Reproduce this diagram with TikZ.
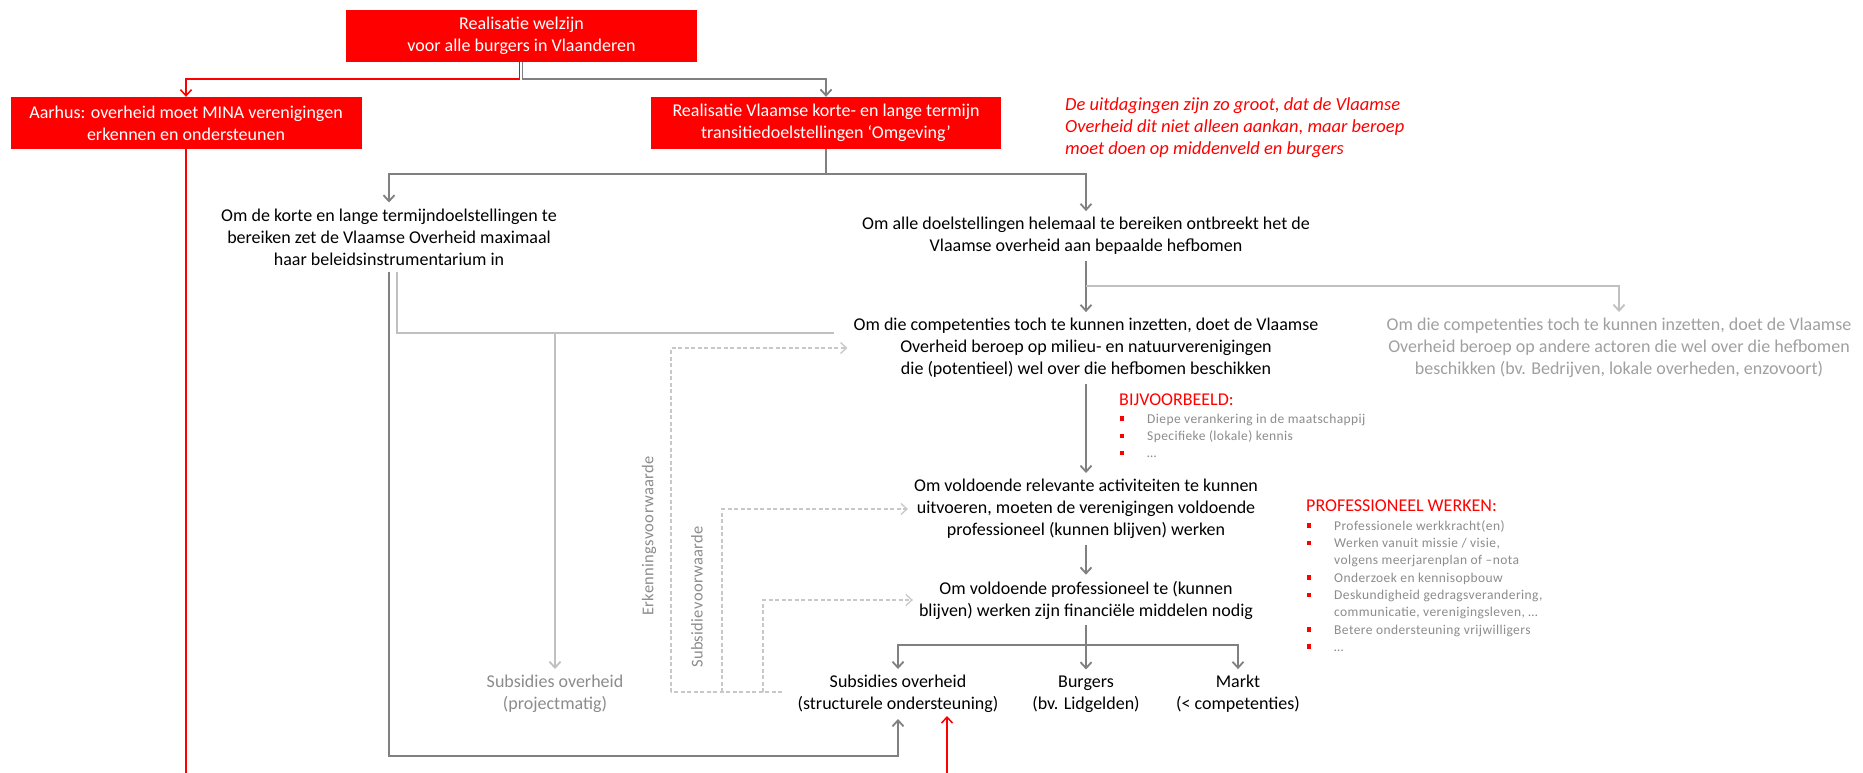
\documentclass[tikz,border=0pt]{standalone}
\usepackage{fontspec}
\setmainfont{Carlito}
\usetikzlibrary{arrows.meta}

\definecolor{redc}{HTML}{FF0000}
\definecolor{lineDark}{HTML}{808080}
\definecolor{lineLight}{HTML}{C0C0C0}
\definecolor{lineDash}{HTML}{C8C8C8}
\definecolor{txtGrey}{HTML}{8C8C8C}
\definecolor{txtLight}{HTML}{A0A0A0}

\newcommand{\mainfs}{\fontsize{18}{22}\selectfont}
\newcommand{\listfs}{\fontsize{13.5}{17.3}\selectfont\addfontfeature{LetterSpace=3}}
\newcommand{\sqbul}{\textcolor{redc}{\rule[2.5pt]{4.5pt}{4.5pt}}}

\begin{document}
\begin{tikzpicture}[x=1pt,y=-1pt,
  >={Straight Barb[length=6pt,width=11pt]},
  redbox/.style={fill=redc,text=white,minimum width=351pt,minimum height=52pt,
    inner sep=0pt,align=center,font=\mainfs},
  txt/.style={align=center,font=\mainfs,inner xsep=6pt,inner ysep=6pt},
  greytxt/.style={txt,text=txtGrey},
  lighttxt/.style={txt,text=txtLight},
  redtitle/.style={font=\mainfs,text=redc,inner sep=0pt,anchor=west},
  listnode/.style={font=\listfs,text=txtGrey,inner sep=0pt,anchor=north west},
  sidelabel/.style={font=\fontsize{16.5}{18}\selectfont\addfontfeature{LetterSpace=2},
    text=txtGrey,rotate=90,inner sep=0pt},
  darkline/.style={draw=lineDark,line width=1.8pt},
  darkarrow/.style={darkline,->},
  lightline/.style={draw=lineLight,line width=1.8pt},
  lightarrow/.style={lightline,->},
  redline/.style={draw=redc,line width=1.5pt},
  redarrow/.style={redline,->},
  dashline/.style={draw=lineDash,line width=1.3pt,dash pattern=on 4pt off 2.5pt},
  dasharrow/.style={dashline,->},
]
% canvas
\path[fill=white,use as bounding box] (0,0) rectangle (1863,773);

% red header boxes
\node[redbox] (top) at (521.5,36) {Realisatie welzijn\\voor alle burgers in Vlaanderen};
\node[redbox] (aarhus) at (186,123) {Aarhus: overheid moet MINA verenigingen\\erkennen en ondersteunen};
\node[redbox,minimum width=350pt] (vlaams) at (826,123) {Realisatie Vlaamse korte- en lange termijn\\transitiedoelstellingen ‘Omgeving’};

\node[font=\fontsize{18.5}{22}\selectfont\itshape,text=redc,align=left,anchor=west,inner sep=0pt] (uitd) at (1065,128)
  {De uitdagingen zijn zo groot, dat de Vlaamse\\Overheid dit niet alleen aankan, maar beroep\\moet doen op middenveld en burgers};

% statements
\node[txt] (korte) at (389,237) {Om de korte en lange termijndoelstellingen te\\bereiken zet de Vlaamse Overheid maximaal\\haar beleidsinstrumentarium in};
\node[txt] (alle) at (1086,236) {Om alle doelstellingen helemaal te bereiken ontbreekt het de\\Vlaamse overheid aan bepaalde hefbomen};
\node[txt] (milieu) at (1086,348) {Om die competenties toch te kunnen inzetten, doet de Vlaamse\\Overheid beroep op milieu- en natuurverenigingen\\die (potentieel) wel over die hefbomen beschikken};
\node[lighttxt] (andere) at (1619,348) {Om die competenties toch te kunnen inzetten, doet de Vlaamse\\Overheid beroep op andere actoren die wel over die hefbomen\\beschikken (bv. Bedrijven, lokale overheden, enzovoort)};
\node[txt] (relevant) at (1086,509) {Om voldoende relevante activiteiten te kunnen\\uitvoeren, moeten de verenigingen voldoende\\professioneel (kunnen blijven) werken};
\node[txt] (financ) at (1086,600) {Om voldoende professioneel te (kunnen\\blijven) werken zijn financiële middelen nodig};

% sources of funding
\node[txt] (subs) at (898,694) {Subsidies overheid\\(structurele ondersteuning)};
\node[txt] (burgers) at (1086,694) {Burgers\\(bv. Lidgelden)};
\node[txt] (markt) at (1238,694) {Markt\\(< competenties)};
\node[greytxt] (project) at (555,694) {Subsidies overheid\\(projectmatig)};

% example lists
\node[redtitle] (bijv) at (1119,400) {BIJVOORBEELD:};
\node[listnode] (bijvlist) at (1119.5,411) {\begin{tabular}{@{}p{27.5pt}@{}l@{}}
\sqbul & Diepe verankering in de maatschappij\\
\sqbul & Specifieke (lokale) kennis\\
\sqbul & …
\end{tabular}};
\node[redtitle] (prof) at (1306,506) {PROFESSIONEEL WERKEN:};
\node[listnode] (proflist) at (1306.5,518) {\begin{tabular}{@{}p{27.5pt}@{}l@{}}
\sqbul & Professionele werkkracht(en)\\
\sqbul & Werken vanuit missie / visie,\\
       & volgens meerjarenplan of –nota\\
\sqbul & Onderzoek en kennisopbouw\\
\sqbul & Deskundigheid gedragsverandering,\\
       & communicatie, verenigingsleven, …\\
\sqbul & Betere ondersteuning vrijwilligers\\
\sqbul & …
\end{tabular}};

% side labels
\node[sidelabel] (erk) at (649,536) {Erkenningsvoorwaarde};
\node[sidelabel] (subv) at (697,597) {Subsidievoorwaarde};

% helper points
\coordinate (fork) at (1086,286);
\coordinate (mjoin) at (834,333);
\coordinate (pfork) at (555,333);
\coordinate (loopy) at (0,756);
\coordinate (redbot) at (947,773);
\coordinate (d0) at (782,692);
\coordinate (d1) at (671,692);
\coordinate (d2) at (722,692);
\coordinate (d3) at (763,692);

% connectors from the header
\draw[redarrow] ([xshift=-2pt]top.south) -- ++(0,17) -| (aarhus.north);
\draw[darkarrow] ([xshift=1pt]top.south) -- ++(0,17) -| (vlaams.north);
\draw[darkarrow] (vlaams.south) -- ++(0,25) -| (korte.north);
\draw[darkarrow] (vlaams.south) -- ++(0,25) -| (alle.north);

% main chain
\draw[darkarrow] (alle.south) -- (milieu.north);
\draw[lightarrow] (fork) -| (andere.north);
\draw[darkarrow] (milieu.south) -- (relevant.north);
\draw[darkarrow] (relevant.south) -- (financ.north);
\draw[darkarrow] (financ.south) -- ++(0,20) -| (subs.north);
\draw[darkarrow] (financ.south) -- (burgers.north);
\draw[darkarrow] (financ.south) -- ++(0,20) -| (markt.north);

% policy instruments
\draw[darkarrow] (korte.south) |- (subs.south |- loopy) -- (subs.south);
\draw[lightline] ([xshift=8pt]korte.south) |- (mjoin);
\draw[lightarrow] (pfork) -- (project.north);

% red lines
\draw[redline] (aarhus.south) -- (aarhus.south |- redbot);
\draw[redarrow] (redbot) -- ([yshift=3pt]redbot |- subs.south);

% conditions (dashed)
\draw[dashline] (d0) -- (d1);
\draw[dasharrow] (d1) |- (milieu.west);
\draw[dasharrow] (d2) |- (relevant.west);
\draw[dasharrow] (d3) |- (financ.west);
\end{tikzpicture}
\end{document}
